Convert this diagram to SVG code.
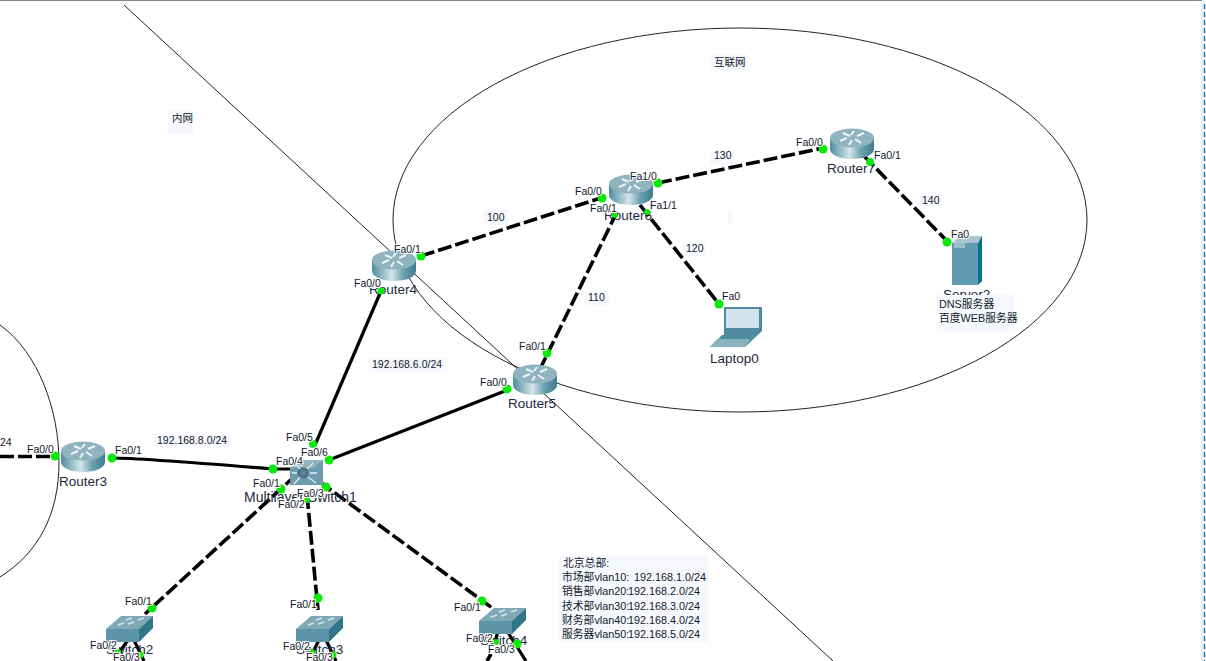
<svg xmlns="http://www.w3.org/2000/svg" width="1206" height="661" viewBox="0 0 1206 661">
<style>
text{font-family:"Liberation Sans","Noto Sans CJK SC",sans-serif;fill:#10182c}
.p{font-size:10.5px;paint-order:stroke;stroke:#fff;stroke-width:2px}
.n{font-size:13.5px;fill:#1c2a3e}
.m{font-size:10.8px}
.c{font-size:10.5px}
.bg{fill:#f6f8fe}
.a{fill:none;stroke:#222;stroke-width:1}
.s{fill:none;stroke:#000;stroke-width:3.2}
.d{fill:none;stroke:#000;stroke-width:3.6;stroke-dasharray:14 4}
.dot{fill:#0be80b}
</style>
<defs>
<linearGradient id="rg" x1="0" x2="1" y1="0" y2="0"><stop offset="0" stop-color="#4f8c9c"/><stop offset=".45" stop-color="#d4e6ea"/><stop offset=".7" stop-color="#6fa3b1"/><stop offset="1" stop-color="#3f7c8d"/></linearGradient>
<radialGradient id="mg"><stop offset="0" stop-color="#6d8fa0"/><stop offset="1" stop-color="#40667a"/></radialGradient>
<symbol id="router" width="46" height="32" viewBox="0 0 46 32" overflow="visible">
<path d="M1 10V21C1 27 11 31 23 31S45 27 45 21V10Z" fill="url(#rg)"/>
<ellipse cx="23" cy="10" rx="22" ry="9.500" fill="#8fb4c0"/>
<path d="M14 5l7 3M11 13l7-3M35 5l-7 3M32 15l-6-4M25 3l-3 4M20 17l3-5" stroke="#eef5f7" stroke-width="2" fill="none"/>
</symbol>
<symbol id="switch" width="48" height="27" viewBox="0 0 48 27" overflow="visible">
<path d="M0 14L15 1H47L33 14Z" fill="#7fa9b6"/>
<path d="M0 14H33V27H0Z" fill="#5d95a8"/>
<path d="M33 14L47 1V13L33 27Z" fill="#2e7688"/>
<path d="M12 10l6-2M22 9l6-2M20 5l6-2M32 5l6-2" stroke="#d8e6ea" stroke-width="1.500" fill="none"/>
</symbol>
</defs>
<rect width="1206" height="661" fill="#fff"/>
<path d="M0 0.500H1202" stroke="#858b94" stroke-width="1"/>
<rect x="1201" y="1" width="3" height="660" fill="#f0f0f0"/>
<path d="M1204.500 4V661" stroke="#0a84e8" stroke-width="1.500" stroke-dasharray="5 3"/>

<g id="areas">
<ellipse class="a" cx="740" cy="220" rx="347" ry="192"/>
<path class="a" d="M124 5L833 661"/>
<path class="a" d="M0 325C38 352 59 410 59 462C59 515 38 553 0 577"/>
</g>

<g id="connectors">
<path class="d" d="M0 456.500H57"/>
<path class="s" d="M112 458C135 458 200 463 273 469H300"/>
<path class="s" d="M381 291L315 445"/>
<path class="s" d="M510 389L329 460"/>
<path class="d" d="M421 256L604 197"/>
<path class="d" d="M658 183L823 148"/>
<path class="d" d="M640 205L719 304"/>
<path class="d" d="M864 156L947 241"/>
<path class="d" d="M617 212L541 367"/>
<path class="d" d="M296 475L145 614"/>
<path class="d" d="M307 495L318 610"/>
<path class="d" d="M320 482L495 610"/>
<path class="s" d="M128 640L118 654M134 640L144 661M319 640L312 654M326 640L336 661M498 631L495 642M507 631L526 661"/>
<path class="d" d="M491 654L487 661"/>
</g>

<g id="Router3"><use href="#router" x="60" y="441"/><text class="n" x="59" y="486">Router3</text></g>
<g id="Router4"><use href="#router" x="371" y="250"/><text class="n" x="369" y="294">Router4</text></g>
<g id="Router5"><use href="#router" x="512" y="364"/><text class="n" x="508" y="408">Router5</text></g>
<g id="Router6"><use href="#router" x="608" y="174"/><text class="n" x="604" y="220">Router6</text></g>
<g id="Router7"><use href="#router" x="829" y="128"/><text class="n" x="827" y="173">Router7</text></g>
<g id="Multilayer-Switch1">
<path d="M290 468L300 460H323V485H290Z" fill="#6c9cae"/>
<path d="M290 468L300 460H323L313 468Z" fill="#8fb4c0"/>
<circle cx="303" cy="473" r="5.500" fill="url(#mg)"/>
<path d="M296 464l4 5M313 463l-6 6M294 484l6-7M316 483l-8-6M292 473h5M317 473h-7" stroke="#e4eef1" stroke-width="1.300"/>
<text class="n" x="244" y="502" style="font-size:14px">Multilayer Switch1</text>
</g>
<g id="Switch2"><use href="#switch" x="106" y="615"/><text class="n" x="106" y="654">Switch2</text></g>
<g id="Switch3"><use href="#switch" x="296" y="615"/><text class="n" x="296" y="654">Switch3</text></g>
<g id="Switch4"><use href="#switch" x="479" y="607"/><text class="n" x="480" y="645">Switch4</text></g>
<g id="Laptop0">
<path d="M724 307H762V331L745 347H710L722 335H724Z" fill="#4f8ba0"/>
<path d="M726 309H759V328H726Z" fill="#d2e4ec"/>
<path d="M710 347L717 339H750L745 347Z" fill="#8ab2bf"/>
<text class="n" x="710" y="363">Laptop0</text>
</g>
<g id="Server2">
<path d="M952 243L960 236H982L978 243Z" fill="#a9c6cf"/>
<path d="M952 243H978V285H952Z" fill="#5f9bb0"/>
<path d="M978 243L982 236V281L978 285Z" fill="#087088"/>
<path d="M954 243H965V248H954Z" fill="#9dbfca"/>
<text class="n" x="943" y="299">Server2</text>
</g>

<g id="ports">
<circle class="dot" cx="55" cy="456" r="4.500"/><circle class="dot" cx="112" cy="458" r="4.500"/>
<circle class="dot" cx="273" cy="469" r="4.500"/><circle class="dot" cx="329" cy="460" r="4.500"/>
<circle class="dot" cx="281" cy="489" r="4.500"/><circle class="dot" cx="326" cy="487" r="4.500"/>
<circle class="dot" cx="307" cy="500" r="3"/><circle class="dot" cx="313" cy="444" r="4"/>
<circle class="dot" cx="381" cy="291" r="3.500"/><circle class="dot" cx="421" cy="256" r="4.500"/>
<circle class="dot" cx="507" cy="389" r="4.500"/><circle class="dot" cx="547" cy="353" r="4.500"/>
<circle class="dot" cx="602" cy="198" r="4.500"/><circle class="dot" cx="615" cy="215" r="3"/>
<circle class="dot" cx="658" cy="183" r="4.500"/><circle class="dot" cx="647" cy="212" r="3"/>
<circle class="dot" cx="823" cy="149" r="4.500"/><circle class="dot" cx="870" cy="162" r="4"/>
<circle class="dot" cx="719" cy="304" r="4.500"/><circle class="dot" cx="947" cy="242" r="4.500"/>
<circle class="dot" cx="152" cy="608" r="4.500"/><circle class="dot" cx="318" cy="598" r="4.500"/>
<circle class="dot" cx="482" cy="601" r="4.500"/>
<circle class="dot" cx="118" cy="652" r="3"/><circle class="dot" cx="140" cy="655" r="3.500"/>
<circle class="dot" cx="312" cy="652" r="3"/><circle class="dot" cx="333" cy="655" r="3.500"/>
<circle class="dot" cx="496" cy="642" r="3"/><circle class="dot" cx="517" cy="644" r="4.500"/>
<text class="p" x="27" y="453">Fa0/0</text><text class="p" x="115" y="454">Fa0/1</text>
<text class="p" x="276" y="465">Fa0/4</text><text class="p" x="301" y="456">Fa0/6</text>
<text class="p" x="253" y="487">Fa0/1</text><text class="p" x="297" y="497">Fa0/3</text>
<text class="p" x="278" y="508">Fa0/2</text><text class="p" x="286" y="441">Fa0/5</text>
<text class="p" x="354" y="287">Fa0/0</text><text class="p" x="394" y="253">Fa0/1</text>
<text class="p" x="480" y="386">Fa0/0</text><text class="p" x="519" y="350">Fa0/1</text>
<text class="p" x="575" y="195">Fa0/0</text><text class="p" x="590" y="212">Fa0/1</text>
<text class="p" x="630" y="180">Fa1/0</text><text class="p" x="650" y="209">Fa1/1</text>
<text class="p" x="796" y="146">Fa0/0</text><text class="p" x="874" y="159">Fa0/1</text>
<text class="p" x="722" y="300">Fa0</text><text class="p" x="951" y="238">Fa0</text>
<text class="p" x="125" y="605">Fa0/1</text><text class="p" x="290" y="608">Fa0/1</text>
<text class="p" x="454" y="611">Fa0/1</text>
<text class="p" x="90" y="649">Fa0/2</text><text class="p" x="113" y="661">Fa0/3</text>
<text class="p" x="283" y="650">Fa0/2</text><text class="p" x="306" y="661">Fa0/3</text>
<text class="p" x="466" y="642">Fa0/2</text><text class="p" x="488" y="653">Fa0/3</text>
</g>

<g id="labels">
<rect class="bg" x="168" y="110" width="25" height="25"/><text class="c" x="172" y="122">内网</text>
<rect class="bg" x="711" y="54" width="36" height="16"/><text class="c" x="714" y="66">互联网</text>
<rect class="bg" x="484" y="209" width="24" height="16"/><text class="c" x="487" y="221">100</text>
<rect class="bg" x="585" y="291" width="24" height="14"/><text class="c" x="588" y="301">110</text>
<rect class="bg" x="683" y="242" width="22" height="14"/><text class="c" x="686" y="252">120</text>
<rect class="bg" x="710" y="150" width="24" height="14"/><text class="c" x="714" y="159">130</text>
<rect class="bg" x="919" y="195" width="22" height="11"/><text class="c" x="922" y="204">140</text>
<rect class="bg" x="728" y="213" width="4" height="12"/>
<rect class="bg" x="369" y="358" width="78" height="14"/><text class="c" x="372" y="368">192.168.6.0/24</text>
<rect class="bg" x="153" y="434" width="78" height="13"/><text class="c" x="157" y="444">192.168.8.0/24</text>
<text class="c" x="0" y="446">24</text>
<rect class="bg" x="937" y="295" width="78" height="37"/>
<text class="m" x="939" y="308">DNS服务器</text><text class="m" x="939" y="322">百度WEB服务器</text>
<rect class="bg" x="559" y="556" width="149" height="86"/>
<text class="m" x="563" y="567">北京总部:</text>
<text class="m" x="562" y="581">市场部vlan10:<tspan x="634">192.168.1.0/24</tspan></text>
<text class="m" x="562" y="595">销售部vlan20:<tspan x="628">192.168.2.0/24</tspan></text>
<text class="m" x="562" y="610">技术部vlan30:<tspan x="628">192.168.3.0/24</tspan></text>
<text class="m" x="562" y="624">财务部vlan40:<tspan x="628">192.168.4.0/24</tspan></text>
<text class="m" x="562" y="638">服务器vlan50:<tspan x="628">192.168.5.0/24</tspan></text>
</g>
</svg>
